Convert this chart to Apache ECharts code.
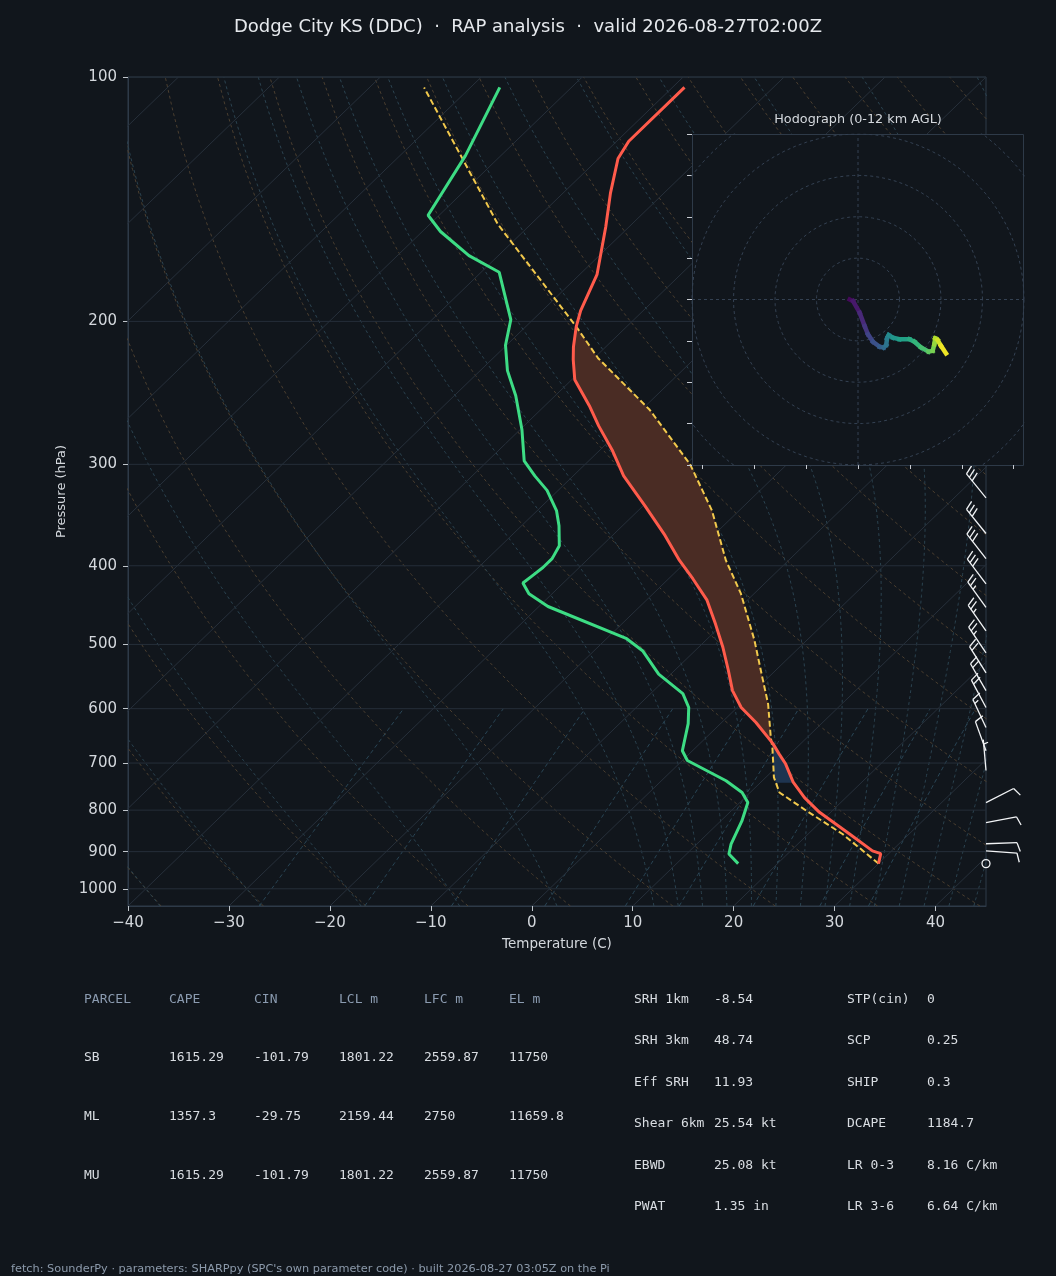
<!DOCTYPE html>
<html>
<head>
<meta charset="utf-8">
<script src="https://cdn.jsdelivr.net/npm/echarts@6/dist/echarts.min.js"></script>
<style>
  html, body { margin: 0; padding: 0; background: #11161c; }
  #chart { width: 1056px; height: 1276px; }
</style>
</head>
<body>
<div id="chart"></div>
<script>
// ---- sounding (hPa / degC) ----
const tempP = [931, 905, 898, 856, 805, 772, 739, 702, 682, 662, 624, 598, 570, 538, 504, 472, 441, 415, 394, 367, 337, 310, 288, 269, 254, 236, 223, 215, 203, 194, 175, 153, 139, 126, 120, 103];
const tempT = [30.0, 29.2, 28.1, 24.1, 18.9, 15.9, 13.2, 10.6, 8.9, 7.2, 3.4, 0.4, -2.2, -4.7, -7.6, -10.7, -14.0, -17.6, -20.8, -24.8, -29.9, -35.0, -38.8, -42.6, -45.6, -49.7, -51.9, -53.2, -55.0, -56.2, -58.3, -62.3, -65.3, -68.1, -68.8, -68.8];
const dewP = [931, 906, 881, 825, 783, 761, 736, 695, 676, 626, 598, 575, 544, 509, 492, 449, 433, 420, 411, 402, 392, 378, 357, 342, 323, 310, 297, 272, 247, 230, 214, 199, 174, 166, 155, 148, 125, 103];
const dewT = [16.1, 14.2, 13.4, 12.1, 10.8, 9.2, 6.4, 0.5, -1.0, -3.2, -4.8, -6.8, -11.2, -15.2, -18.0, -29.1, -32.3, -34.0, -33.8, -33.6, -33.6, -34.2, -36.3, -38.1, -41.1, -43.8, -46.4, -49.8, -53.9, -57.3, -60.1, -62.2, -68.2, -72.9, -78.2, -81.1, -83.5, -87.1];
const parcelP = [931, 856, 801, 761, 729, 670, 651, 592, 549, 494, 433, 394, 342, 300, 257, 222, 203, 152, 112, 103];
const parcelT = [30.0, 23.4, 17.4, 12.9, 10.8, 7.6, 6.4, 2.7, -0.6, -5.2, -11.3, -16.2, -22.7, -29.6, -39.2, -49.6, -55.0, -73.2, -90.0, -94.6];
const cinBottomP = 740;

// wind barbs (hPa, direction deg, speed kt)
const windP = [330, 365, 392, 421, 450, 481, 512, 542, 570, 598, 633, 676, 715, 783, 829, 880, 898, 931];
const windDir = [321, 321, 322, 323, 324, 325, 326, 328, 330, 332, 335, 340, 355, 63, 79, 88, 94, 0];
const windSpd = [30, 30, 30, 30, 25, 25, 25, 20, 20, 20, 15, 10, 5, 10, 10, 10, 10, 0];

// hodograph trace (kt)
const hodoU = [-2.0, -1.2, 0.4, 1.6, 2.4, 3.6, 5.2, 6.2, 6.8, 7.0, 7.4, 8.4, 10.0, 12.4, 13.6, 15.2, 17.0, 18.0, 18.4, 18.6, 19.2, 20.0, 21.2];
const hodoV = [0.0, -0.4, -3.2, -6.4, -8.4, -10.2, -11.4, -11.6, -11.0, -9.4, -8.6, -9.2, -9.6, -9.6, -10.2, -11.6, -12.6, -12.4, -10.8, -9.4, -9.8, -11.2, -13.0];
const hodoRings = [10, 20, 30, 40, 50];
const hodoXTicks = [-37.5, -25, -12.5, 0, 12.5, 25, 37.5];
const viridis = ['#440154', '#482878', '#3e4989', '#31688e', '#26828e', '#1f9e89', '#35b779', '#6ece58', '#b5de2b', '#fde725'];

// axes
const pressureTicks = [100, 200, 300, 400, 500, 600, 700, 800, 900, 1000];
const tempTicks = [-40, -30, -20, -10, 0, 10, 20, 30, 40];

// tables
const parcelHeader = ['PARCEL', 'CAPE', 'CIN', 'LCL m', 'LFC m', 'EL m'];
const parcelRows = [
  ['SB', '1615.29', '-101.79', '1801.22', '2559.87', '11750'],
  ['ML', '1357.3', '-29.75', '2159.44', '2750', '11659.8'],
  ['MU', '1615.29', '-101.79', '1801.22', '2559.87', '11750']
];
const indexLeft = [
  ['SRH 1km', '-8.54'], ['SRH 3km', '48.74'], ['Eff SRH', '11.93'],
  ['Shear 6km', '25.54 kt'], ['EBWD', '25.08 kt'], ['PWAT', '1.35 in']
];
const indexRight = [
  ['STP(cin)', '0'], ['SCP', '0.25'], ['SHIP', '0.3'],
  ['DCAPE', '1184.7'], ['LR 0-3', '8.16 C/km'], ['LR 3-6', '6.64 C/km']
];

const BG = '#11161c';
const P_BOT = 1050, P_TOP = 100, X_MIN = -40, X_MAX = 45;
const LBOT = Math.log10(P_BOT), LTOP = Math.log10(P_TOP);

// skew-T: shift temperature right by the full axis width from bottom to top
function skewX(t, p) {
  return t + (X_MAX - X_MIN) * (LBOT - Math.log10(p)) / (LBOT - LTOP);
}
function pt(t, p) { return [skewX(t, p), Math.log10(p)]; }

function interpLogP(P, T, p) {
  for (let i = 0; i < P.length - 1; i++) {
    if (p <= P[i] && p >= P[i + 1]) {
      const f = (Math.log(P[i]) - Math.log(p)) / (Math.log(P[i]) - Math.log(P[i + 1]));
      return T[i] + f * (T[i + 1] - T[i]);
    }
  }
  return NaN;
}

// ---- background lines ----
const bgP = [];
for (let p = P_BOT; p >= P_TOP; p -= 10) bgP.push(p);

function satVap(tc) { return 6.112 * Math.exp(17.67 * tc / (tc + 243.5)); }
function moistLapse(tK, p) {
  const es = satVap(tK - 273.15);
  const rs = 0.622 * es / (p - es);
  return (287.04 * tK + 2.501e6 * rs) /
    (p * (1005.7 + 2.501e6 * 2.501e6 * rs * 0.622 / (287.04 * tK * tK)));
}
function moistAdiabat(t0) {
  const step = (T, p, dp) => {
    const k1 = moistLapse(T, p);
    const k2 = moistLapse(T + k1 * dp / 2, p + dp / 2);
    const k3 = moistLapse(T + k2 * dp / 2, p + dp / 2);
    const k4 = moistLapse(T + k3 * dp, p + dp);
    return T + dp * (k1 + 2 * k2 + 2 * k3 + k4) / 6;
  };
  let T = t0 + 273.15, p = 1000;
  const down = [[T, p]];
  while (p < P_BOT) { T = step(T, p, 5); p += 5; down.push([T, p]); }
  T = t0 + 273.15; p = 1000;
  const up = [];
  while (p > P_TOP) { T = step(T, p, -5); p -= 5; up.push([T, p]); }
  return down.reverse().concat(up).map(d => pt(d[0] - 273.15, d[1]));
}

const series = [];
function bgLine(data, color, type) {
  series.push({
    type: 'line', xAxisIndex: 0, yAxisIndex: 0, data, symbol: 'none', silent: true,
    lineStyle: { color, width: 1, type }, z: 1
  });
}

// dry adiabats
for (let t0 = -50; t0 <= 200; t0 += 10) {
  bgLine(bgP.map(p => pt((t0 + 273.15) * Math.pow(p / 1000, 0.2857) - 273.15, p)), '#4b3f30', [3, 3]);
}
// moist adiabats
const moistT0 = [-50, -40, -30, -20, -10, 0, 10, 12.5, 15, 17.5, 20, 22.5, 25, 27.5, 30, 32.5, 35, 37.5, 40, 42.5, 45];
moistT0.forEach(t0 => bgLine(moistAdiabat(t0), '#2b4350', [3, 3]));
// mixing ratio lines (g/kg)
[0.4, 1, 2, 4, 7, 10, 16, 24, 32].forEach(w => {
  const data = bgP.filter(p => p >= 600).map(p => {
    const e = (w / 1000) * p / (0.622 + w / 1000);
    const l = Math.log(e / 6.112);
    return pt(243.5 * l / (17.67 - l), p);
  });
  bgLine(data, '#2a4656', [4, 3]);
});
// isotherms
for (let t = -120; t <= 40; t += 10) bgLine([pt(t, P_BOT), pt(t, P_TOP)], '#27303b', 'solid');
// pressure grid
pressureTicks.forEach(p => bgLine([[X_MIN, Math.log10(p)], [X_MAX, Math.log10(p)]], '#252e39', 'solid'));

// ---- CAPE / CIN shading ----
const diff = p => interpLogP(parcelP, parcelT, p) - interpLogP(tempP, tempT, p);
function crossing(pa, pb) {
  for (let k = 0; k < 50; k++) {
    const m = Math.sqrt(pa * pb);
    if (Math.sign(diff(m)) === Math.sign(diff(pa))) pa = m; else pb = m;
  }
  return Math.sqrt(pa * pb);
}
const fine = [];
for (let i = 0; i <= 600; i++) fine.push(931 * Math.pow(103 / 931, i / 600));
let lfcP = null, elP = null;
for (let i = 0; i < fine.length - 1; i++) {
  const a = diff(fine[i]), b = diff(fine[i + 1]);
  if (a <= 0 && b > 0 && lfcP === null) lfcP = crossing(fine[i], fine[i + 1]);
  if (a > 0 && b <= 0 && lfcP !== null && elP === null) elP = crossing(fine[i], fine[i + 1]);
}
function fillPolygon(pa, pb) {
  const ps = [pa, pb];
  fine.concat(tempP, parcelP).forEach(p => { if (p < pa && p > pb) ps.push(p); });
  ps.sort((x, y) => y - x);
  const a = ps.map(p => pt(interpLogP(parcelP, parcelT, p), p));
  const b = ps.slice().reverse().map(p => pt(interpLogP(tempP, tempT, p), p));
  return a.concat(b);
}
function fillSeries(poly, color) {
  return {
    type: 'custom', xAxisIndex: 0, yAxisIndex: 0, silent: true, z: 3, data: [0],
    renderItem: (params, api) => ({
      type: 'polygon',
      shape: { points: poly.map(d => api.coord(d)) },
      style: { fill: color }
    })
  };
}
series.push(fillSeries(fillPolygon(lfcP, elP), '#4a2c24'));
series.push(fillSeries(fillPolygon(cinBottomP, lfcP), '#1e3450'));

// ---- profiles ----
series.push({
  type: 'line', xAxisIndex: 0, yAxisIndex: 0, symbol: 'none', silent: true, z: 4,
  data: parcelP.map((p, i) => pt(parcelT[i], p)),
  lineStyle: { color: '#f2c94c', width: 2, type: [6, 3] }
});
series.push({
  type: 'line', xAxisIndex: 0, yAxisIndex: 0, symbol: 'none', silent: true, z: 5,
  data: tempP.map((p, i) => pt(tempT[i], p)),
  lineStyle: { color: '#ff5b4b', width: 3 }
});
series.push({
  type: 'line', xAxisIndex: 0, yAxisIndex: 0, symbol: 'none', silent: true, z: 5,
  data: dewP.map((p, i) => pt(dewT[i], p)),
  lineStyle: { color: '#3ddc84', width: 3 }
});

// ---- wind barbs on the right edge ----
function drawBarb(params, api) {
  const c = api.coord([api.value(0), api.value(1)]);
  const bx = c[0], by = c[1];
  const dir = api.value(2) * Math.PI / 180, spd = api.value(3);
  const st = { stroke: '#f2f4f6', lineWidth: 1.3, fill: null };
  if (spd < 2.5) return { type: 'circle', shape: { cx: bx, cy: by, r: 4 }, style: st };
  const dx = Math.sin(dir), dy = -Math.cos(dir);
  const fx = Math.cos(dir), fy = Math.sin(dir);
  const L = 31, FL = 9, GAP = 4.5, SL = 3;
  const children = [{ type: 'line', shape: { x1: bx, y1: by, x2: bx + dx * L, y2: by + dy * L }, style: st }];
  const rem = Math.round(spd / 5) * 5;
  const full = Math.floor(rem / 10);
  const half = rem - full * 10 >= 5;
  let pos = L;
  for (let i = 0; i < full; i++) {
    const sx = bx + dx * pos, sy = by + dy * pos;
    children.push({ type: 'line', shape: { x1: sx, y1: sy, x2: sx + fx * FL + dx * SL, y2: sy + fy * FL + dy * SL }, style: st });
    pos -= GAP;
  }
  if (half) {
    if (full === 0) pos -= GAP;
    const sx = bx + dx * pos, sy = by + dy * pos;
    children.push({ type: 'line', shape: { x1: sx, y1: sy, x2: sx + fx * FL / 2 + dx * SL / 2, y2: sy + fy * FL / 2 + dy * SL / 2 }, style: st });
  }
  return { type: 'group', children };
}
series.push({
  type: 'custom', xAxisIndex: 0, yAxisIndex: 0, clip: false, silent: true, z: 6,
  data: windP.map((p, i) => [X_MAX, Math.log10(p), windDir[i], windSpd[i]]),
  renderItem: drawBarb
});

// ---- hodograph ----
function hodoLine(data, color, type, width, z) {
  series.push({
    type: 'line', xAxisIndex: 1, yAxisIndex: 1, data, symbol: 'none', silent: true,
    lineStyle: { color, width, type }, z
  });
}
hodoRings.forEach(r => {
  const ring = [];
  for (let a = 0; a <= 360; a += 4) ring.push([r * Math.cos(a * Math.PI / 180), r * Math.sin(a * Math.PI / 180)]);
  hodoLine(ring, '#344152', [3, 3], 1, 60);
});
hodoLine([[-40, 0], [40, 0]], '#344152', [3, 3], 1, 60);
hodoLine([[0, -40], [0, 40]], '#344152', [3, 3], 1, 60);
// trace: one segment per level pair, coloured along viridis by height
const hodoSegs = [];
for (let i = 0; i < hodoU.length - 1; i++) {
  hodoSegs.push([hodoU[i], hodoV[i], hodoU[i + 1], hodoV[i + 1], (i + 0.5) / (hodoU.length - 1)]);
}
series.push({
  type: 'custom', coordinateSystem: 'cartesian2d', xAxisIndex: 1, yAxisIndex: 1, silent: true, z: 62,
  data: hodoSegs,
  encode: { x: [0, 2], y: [1, 3] },
  renderItem: (params, api) => {
    const a = api.coord([api.value(0), api.value(1)]);
    const b = api.coord([api.value(2), api.value(3)]);
    return {
      type: 'line',
      shape: { x1: a[0], y1: a[1], x2: b[0], y2: b[1] },
      style: { stroke: echarts.color.lerp(api.value(4), viridis), lineWidth: 4.5, lineCap: 'square' }
    };
  }
});

// ---- texts ----
const mono = 'DejaVu Sans Mono';
const graphic = [
  { type: 'rect', z: 50, silent: true, shape: { x: 692.5, y: 134.5, width: 331, height: 331 },
    style: { fill: BG, stroke: '#2e3a48', lineWidth: 1 } },
  { type: 'text', x: 528, y: 27, silent: true,
    style: { text: 'Dodge City KS (DDC)  \u00b7  RAP analysis  \u00b7  valid 2026-08-27T02:00Z', fill: '#e6e9ed', fontSize: 18, fontFamily: 'DejaVu Sans', textAlign: 'center', textVerticalAlign: 'middle' } },
  { type: 'text', x: 858, y: 120, z: 61, silent: true,
    style: { text: 'Hodograph (0-12 km AGL)', fill: '#d4d8dd', fontSize: 12.8, fontFamily: 'DejaVu Sans', textAlign: 'center', textVerticalAlign: 'middle' } },
  { type: 'text', x: 11, y: 1269, silent: true,
    style: { text: "fetch: SounderPy \u00b7 parameters: SHARPpy (SPC's own parameter code) \u00b7 built 2026-08-27 03:05Z on the Pi", fill: '#8c9aab', fontSize: 11.3, fontFamily: 'DejaVu Sans', textAlign: 'left', textVerticalAlign: 'middle' } }
];
const colX = [84, 169, 254, 339, 424, 509];
const rowY = [1000, 1058, 1117, 1176];
function tableText(text, x, y, color) {
  graphic.push({ type: 'text', x, y, silent: true,
    style: { text, fill: color, fontSize: 13, fontFamily: mono, textAlign: 'left', textVerticalAlign: 'middle' } });
}
parcelHeader.forEach((h, j) => tableText(h, colX[j], rowY[0], '#8b9bb0'));
parcelRows.forEach((row, i) => row.forEach((v, j) => tableText(v, colX[j], rowY[i + 1], '#d9dde2')));
const idxY = [1000, 1041, 1083, 1124, 1166, 1207];
indexLeft.forEach((r, i) => { tableText(r[0], 634, idxY[i], '#d9dde2'); tableText(r[1], 714, idxY[i], '#d9dde2'); });
indexRight.forEach((r, i) => { tableText(r[0], 847, idxY[i], '#d9dde2'); tableText(r[1], 927, idxY[i], '#d9dde2'); });

const labelColor = '#d4d8dd';
const chart = echarts.init(document.getElementById('chart'));
chart.setOption({
  backgroundColor: BG,
  animation: false,
  grid: [
    { left: 128, top: 77, width: 858, height: 829, show: true, borderColor: '#2e3a48', borderWidth: 1, backgroundColor: 'transparent' },
    { left: 692, top: 134, width: 332, height: 331, show: false }
  ],
  xAxis: [
    {
      gridIndex: 0, type: 'value', min: X_MIN, max: X_MAX,
      name: 'Temperature (C)', nameLocation: 'middle', nameGap: 31,
      nameTextStyle: { color: labelColor, fontSize: 13.5, fontFamily: 'DejaVu Sans' },
      axisLine: { show: true, onZero: false, lineStyle: { color: '#2e3a48' } },
      axisTick: { show: true, length: 5, lineStyle: { color: '#c0c6cc' }, customValues: tempTicks },
      axisLabel: { color: labelColor, fontSize: 15, fontFamily: 'DejaVu Sans', margin: 10, customValues: tempTicks,
        formatter: v => (v < 0 ? '\u2212' + (-v) : String(v)) },
      splitLine: { show: false }
    },
    {
      gridIndex: 1, type: 'value', min: -40, max: 40, z: 60, position: 'bottom',
      axisLine: { show: false, onZero: false },
      axisTick: { show: true, length: 4, lineStyle: { color: '#c8ccd2' }, customValues: hodoXTicks },
      axisLabel: { show: false },
      splitLine: { show: false }
    }
  ],
  yAxis: [
    {
      gridIndex: 0, type: 'value', inverse: true, min: LTOP, max: LBOT,
      name: 'Pressure (hPa)', nameLocation: 'middle', nameGap: 58, nameRotate: 90,
      nameTextStyle: { color: labelColor, fontSize: 13, fontFamily: 'DejaVu Sans' },
      axisLine: { show: true, onZero: false, lineStyle: { color: '#2e3a48' } },
      axisTick: { show: true, length: 5, lineStyle: { color: '#c0c6cc' }, customValues: pressureTicks.map(p => Math.log10(p)) },
      axisLabel: { color: labelColor, fontSize: 15, fontFamily: 'DejaVu Sans', margin: 11,
        customValues: pressureTicks.map(p => Math.log10(p)),
        formatter: v => String(Math.round(Math.pow(10, v))) },
      splitLine: { show: false }
    },
    {
      gridIndex: 1, type: 'value', min: -40, max: 40, interval: 10, z: 60, position: 'left',
      axisLine: { show: false, onZero: false },
      axisTick: { show: true, length: 5, lineStyle: { color: '#c8ccd2' } },
      axisLabel: { show: false },
      splitLine: { show: false }
    }
  ],
  graphic,
  series
});
</script>
</body>
</html>
